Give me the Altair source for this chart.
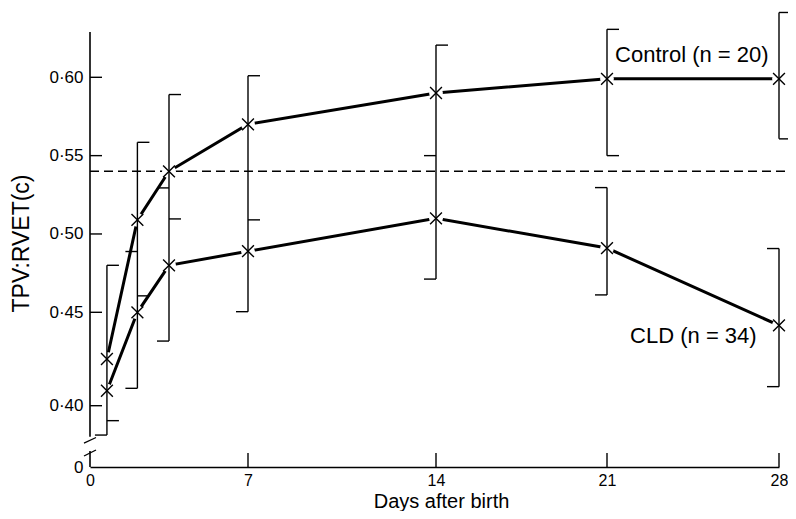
import altair as alt
import pandas as pd

# ---------------- data ----------------
days = [0.75, 2.1, 3.5, 7, 14, 21, 28]
control_mean = [0.425, 0.509, 0.540, 0.570, 0.590, 0.599, 0.599]
cld_mean = [0.408, 0.450, 0.480, 0.489, 0.510, 0.491, 0.443]
reference_level = 0.54

whisker_day = [0.75, 2.1, 3.5, 7, 14, 21, 21, 28, 28]
whisker_top = [0.480, 0.5585, 0.589, 0.601, 0.6206, 0.6307, 0.5296, 0.6415, 0.4907]
whisker_bottom = [0.3843, 0.4093, 0.4346, 0.4504, 0.4712, 0.550, 0.4611, 0.5607, 0.4102]

cap_day = [0.75, 0.75, 0.75,
           2.1, 2.1, 2.1, 2.1,
           3.5, 3.5, 3.5, 3.5,
           7, 7, 7,
           14, 14, 14,
           21, 21, 21, 21,
           28, 28, 28, 28]
cap_value = [0.480, 0.392, 0.3843,
             0.5585, 0.4888, 0.4605, 0.4093,
             0.589, 0.5294, 0.5096, 0.4346,
             0.601, 0.509, 0.4504,
             0.6206, 0.550, 0.4712,
             0.6307, 0.550, 0.5296, 0.4611,
             0.6415, 0.5607, 0.4907, 0.4102]
cap_side = ["R", "R", "L",
            "R", "L", "R", "L",
            "R", "L", "R", "L",
            "R", "R", "L",
            "R", "L", "L",
            "R", "R", "L", "L",
            "R", "R", "L", "L"]

x_tick_values = [0, 7, 14, 21, 28]
y_tick_values = [0.40, 0.45, 0.50, 0.55, 0.60]
y_label_values = [0, 0.40, 0.45, 0.50, 0.55, 0.60]

group_names = ["Control (n = 20)", "CLD (n = 34)"]

# ---------------- layout / scales ----------------
FONT = "Liberation Sans"
W, H = 689, 435
X_DOMAIN = [0, 7, 14, 21, 28]
X_RANGE = [0, 158, 346, 517, 689]
Y_DOMAIN = [0, 0.1, 0.38, 0.40, 0.45, 0.60, 0.629]
Y_RANGE = [435, 419, 411.1, 373.7, 280.3, 45.3, 0]

xscale = alt.Scale(domain=X_DOMAIN, range=X_RANGE, nice=False, zero=False)
yscale = alt.Scale(domain=Y_DOMAIN, range=Y_RANGE, nice=False, zero=False)

x_axis = alt.Axis(values=x_tick_values, domain=True, domainColor="black", domainWidth=1.6,
                  ticks=False, tickSize=0, grid=False, labelFlush=False, labelOverlap=False,
                  labelFont=FONT, labelFontSize=16, labelColor="black", labelPadding=5,
                  title="Days after birth", titleFont=FONT, titleFontSize=20,
                  titleFontWeight="normal", titleColor="black",
                  titleX=351, titleY=40, titleAlign="center", titleBaseline="alphabetic")

y_axis = alt.Axis(values=y_label_values, domain=False, ticks=False, tickSize=0, grid=False,
                  labelFlush=False, labelOverlap=False,
                  labelExpr="datum.value == 0 ? '0' : replace(format(datum.value, '.2f'), '.', '\u00b7')",
                  labelFont=FONT, labelFontSize=17, labelColor="black", labelPadding=7,
                  title="TPV:RVET(c)", titleFont=FONT, titleFontSize=23,
                  titleFontWeight="normal", titleColor="black",
                  titleX=-57, titleY=211, titleAngle=270, titleAlign="center",
                  titleBaseline="bottom")


def X(field):
    return alt.X(field, type="quantitative", scale=xscale, axis=x_axis)


def Y(field):
    return alt.Y(field, type="quantitative", scale=yscale, axis=y_axis)


# ---------------- tables ----------------
means = pd.DataFrame({
    "day": days * 2,
    "value": control_mean + cld_mean,
    "group": [group_names[0]] * len(days) + [group_names[1]] * len(days),
})
whiskers = pd.DataFrame({"day": whisker_day, "top": whisker_top, "bottom": whisker_bottom})
caps = pd.DataFrame({"day": cap_day, "value": cap_value, "side": cap_side})
ref = pd.DataFrame({"day": [0], "day_end": [28], "value": [reference_level]})
yticks = pd.DataFrame({"day": [0] * len(y_tick_values), "value": y_tick_values})
xticks = pd.DataFrame({"day": x_tick_values[1:], "value": [0] * (len(x_tick_values) - 1)})
yaxis_segments = pd.DataFrame({"day": [0, 0], "value": [0.3834, 0.0], "hi": [0.629, 0.1]})
slashes = pd.DataFrame({"day": [0, 0], "value": [0.3795, 0.0688], "y2": [0.3830, 0.1354]})
labels = pd.DataFrame({"day": [21.33, 21.94], "value": [0.6098, 0.4336], "text": group_names})

# ---------------- layers ----------------
line_layer = alt.Chart(means).mark_line(color="black", strokeWidth=3).encode(
    x=X("day"), y=Y("value"), detail="group:N")

ref_layer = alt.Chart(ref).mark_rule(color="black", strokeWidth=1.5, strokeDash=[9, 5],
                                     x2Offset=10).encode(
    x=X("day"), x2=alt.X2("day_end"), y=Y("value"))

halo_layer = alt.Chart(means).mark_point(shape="circle", filled=True, color="white",
                                         opacity=1, size=190, strokeWidth=0).encode(
    x=X("day"), y=Y("value"))

whisker_layer = alt.Chart(whiskers).mark_rule(color="black", strokeWidth=1.4).encode(
    x=X("day"), y=Y("top"), y2=alt.Y2("bottom"))

cap_right = alt.Chart(caps).transform_filter("datum.side == 'R'").mark_rule(
    color="black", strokeWidth=1.4, x2Offset=12).encode(
    x=X("day"), x2=alt.X2("day"), y=Y("value"))

cap_left = alt.Chart(caps).transform_filter("datum.side == 'L'").mark_rule(
    color="black", strokeWidth=1.4, x2Offset=-12).encode(
    x=X("day"), x2=alt.X2("day"), y=Y("value"))

marker_layer = alt.Chart(means).mark_point(shape="M-1,-1L1,1M-1,1L1,-1", size=140,
                                           filled=False, color="black", opacity=1,
                                           strokeWidth=1.4).encode(
    x=X("day"), y=Y("value"))

ytick_layer = alt.Chart(yticks).mark_rule(color="black", strokeWidth=1.4, x2Offset=12).encode(
    x=X("day"), x2=alt.X2("day"), y=Y("value"))

xtick_layer = alt.Chart(xticks).mark_rule(color="black", strokeWidth=1.4, y2Offset=-14).encode(
    x=X("day"), y=Y("value"), y2=alt.Y2("value"))

yaxis_layer = alt.Chart(yaxis_segments).mark_rule(color="black", strokeWidth=1.6).encode(
    x=X("day"), y=Y("value"), y2=alt.Y2("hi"))

slash_layer = alt.Chart(slashes).mark_rule(color="black", strokeWidth=1.3,
                                           xOffset=-6, x2Offset=6).encode(
    x=X("day"), x2=alt.X2("day"), y=Y("value"), y2=alt.Y2("y2"))

label_layer = alt.Chart(labels).mark_text(font=FONT, fontSize=22, color="black",
                                          align="left", baseline="alphabetic").encode(
    x=X("day"), y=Y("value"), text="text:N")

chart = alt.layer(
    line_layer, ref_layer, halo_layer, whisker_layer, cap_right, cap_left,
    marker_layer, ytick_layer, xtick_layer, yaxis_layer, slash_layer, label_layer
).properties(
    width=W, height=H,
    autosize=alt.AutoSizeParams(type="none"),
    padding={"left": 82, "top": 24, "right": 9, "bottom": 44},
    background="white",
).configure_view(stroke=None)

chart.save("out.html", embed_options={"renderer": "svg", "actions": False})
